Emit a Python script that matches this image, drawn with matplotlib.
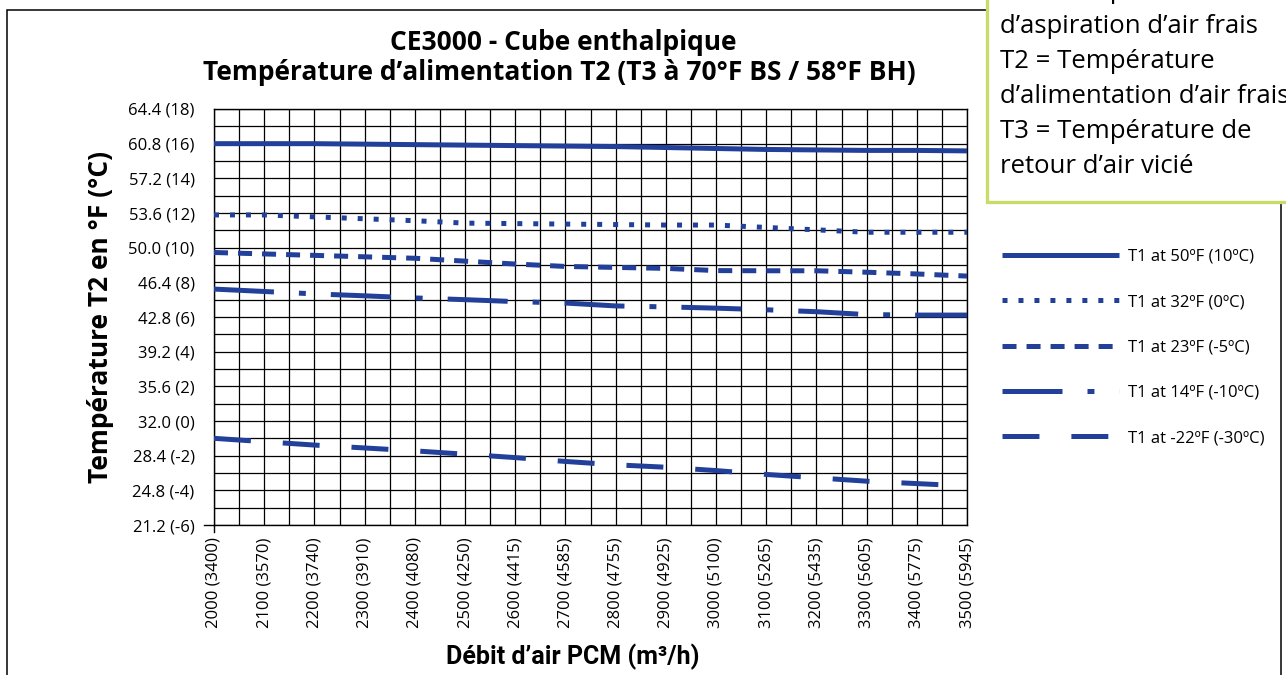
import matplotlib
matplotlib.use("Agg")
import matplotlib.pyplot as plt
from matplotlib.patches import Rectangle
from matplotlib.lines import Line2D

plt.rcParams['lines.scale_dashes'] = False

# debit d'air : PCM et equivalent m3/h
debit_pcm = [2000, 2100, 2200, 2300, 2400, 2500, 2600, 2700,
             2800, 2900, 3000, 3100, 3200, 3300, 3400, 3500]
debit_m3h = [3400, 3570, 3740, 3910, 4080, 4250, 4415, 4585,
             4755, 4925, 5100, 5265, 5435, 5605, 5775, 5945]

# graduations de l'axe Y (°F et °C)
temp_f = [21.2, 24.8, 28.4, 32.0, 35.6, 39.2, 42.8, 46.4, 50.0, 53.6, 57.2, 60.8, 64.4]
temp_c = [-6, -4, -2, 0, 2, 4, 6, 8, 10, 12, 14, 16, 18]

# T2 (°F), pour chaque T1
t2_50f = [60.8, 60.8, 60.8, 60.75, 60.7, 60.65, 60.6, 60.55,
          60.5, 60.4, 60.3, 60.2, 60.15, 60.1, 60.1, 60.05]
t2_32f = [53.4, 53.4, 53.2, 53.0, 52.8, 52.55, 52.5, 52.45,
          52.4, 52.35, 52.35, 52.1, 51.85, 51.6, 51.6, 51.6]
t2_23f = [49.5, 49.35, 49.2, 49.05, 48.9, 48.6, 48.3, 48.05,
          47.95, 47.85, 47.62, 47.6, 47.6, 47.45, 47.27, 47.05]
t2_14f = [45.7, 45.45, 45.2, 45.0, 44.78, 44.6, 44.4, 44.25,
          43.95, 43.85, 43.72, 43.55, 43.35, 43.05, 43.0, 43.0]
t2_m22f = [30.2, 29.85, 29.5, 29.2, 28.9, 28.55, 28.2, 27.8,
           27.45, 27.2, 26.85, 26.45, 26.1, 25.75, 25.5, 25.25]

legendes = ['T1 at 50ºF (10ºC)', 'T1 at 32ºF (0ºC)', 'T1 at 23ºF (-5ºC)',
            'T1 at 14ºF (-10ºC)', 'T1 at -22ºF (-30ºC)']

bleu = '#22409a'
styles = ['-', (0, (3.6, 7.9)), (0, (10.1, 7.2)),
          (0, (43.2, 18, 5, 18)), (0, (26.6, 23))]
series = [t2_50f, t2_32f, t2_23f, t2_14f, t2_m22f]

W, H = 1286, 675
fig = plt.figure(figsize=(W / 100, H / 100), dpi=100)
ax = fig.add_axes([214 / W, 150 / H, 753 / W, 416 / H])

for valeurs, style in zip(series, styles):
    ax.plot(debit_pcm, valeurs, color=bleu, lw=3.6, linestyle=style,
            solid_capstyle='butt', zorder=3)

ax.set_xlim(debit_pcm[0], debit_pcm[-1])
ax.set_ylim(temp_f[0], temp_f[-1])
ax.set_xticks(debit_pcm)
ax.set_xticks([p + 50 for p in debit_pcm[:-1]], minor=True)
ax.set_yticks(temp_f)
ax.set_yticks([t + 1.8 for t in temp_f[:-1]], minor=True)

police = 'Open Sans'
ax.set_xticklabels([f"{p} ({m})" for p, m in zip(debit_pcm, debit_m3h)],
                   rotation=90, fontsize=12, family=police)
ax.set_yticklabels([f"{f:.1f} ({c})" for f, c in zip(temp_f, temp_c)],
                   fontsize=12, family=police)
ax.tick_params(which='both', length=0)
ax.tick_params(axis='y', pad=14)
ax.tick_params(axis='x', pad=9)

ax.grid(which='both', color='black', lw=0.9)
ax.set_axisbelow(True)
for s in ax.spines.values():
    s.set_color('black')
    s.set_linewidth(1)

# petits traits au coin bas-gauche
ax.plot([-0.013, 0], [0, 0], transform=ax.transAxes, clip_on=False, color='black', lw=1)
ax.plot([0, 0], [0, -0.018], transform=ax.transAxes, clip_on=False, color='black', lw=1)

ax.set_ylabel("Température T2 en °F (°C)", fontsize=19, fontweight='bold',
              family=police, labelpad=10)
fig.text(573 / W, 1 - 657 / H, "Débit d’air PCM (m³/h)", ha='center', va='center',
         fontsize=18, fontweight='bold', family='Roboto')

# titre
fig.text(563 / W, 1 - 42 / H, "CE3000 - Cube enthalpique", ha='center', va='center',
         fontsize=19, fontweight='bold', family=police)
fig.text(559 / W, 1 - 73 / H, "Température d’alimentation T2 (T3 à 70°F BS / 58°F BH)",
         ha='center', va='center', fontsize=19, fontweight='bold', family=police)

# cadre general
fig.patches.append(Rectangle((7 / W, -0.05), (1281 - 7) / W, 1 - 10 / H + 0.05,
                             transform=fig.transFigure, fill=False, ec='black', lw=1.1,
                             zorder=1))
# encadre vert
fig.patches.append(Rectangle((987 / W, 1 - 202 / H), 0.5, 0.5, transform=fig.transFigure,
                             fc='white', ec='#c8dc6c', lw=2.4, zorder=2))
lignes_note = ["T1 = Température", "d’aspiration d’air frais", "T2 = Température",
               "d’alimentation d’air frais", "T3 = Température de", "retour d’air vicié"]
for i, txt in enumerate(lignes_note):
    fig.text(1000 / W, 1 - (-2 + 35 * i) / H, txt, ha='left', va='baseline',
             fontsize=18.5, family=police, zorder=4)

poignees = [Line2D([0], [0], color=bleu, lw=3.6, linestyle=s, solid_capstyle='butt')
            for s in styles]
fig.legend(poignees, legendes, loc='upper left', bbox_to_anchor=(1002 / W, 1 - 249 / H),
           frameon=False, borderpad=0, borderaxespad=0, handlelength=7.0,
           handletextpad=0.55, labelspacing=1.76, prop={'family': police, 'size': 12})

fig.savefig('out.png', dpi=100)
